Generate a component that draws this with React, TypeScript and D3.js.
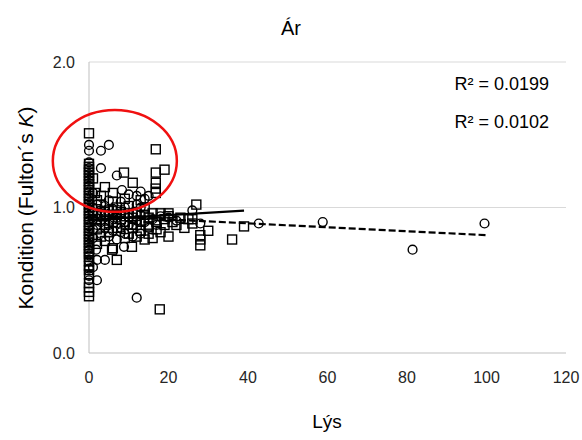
import React from "react";
import * as d3 from "d3";

const xTicks = [0, 20, 40, 60, 80, 100, 120];
const yTicks = [0, 1, 2];

// Series 1 (squares)
const squarePoints: [number, number][] = [
  [0, 1.51], [0, 1.3], [0, 1.28], [0, 1.26], [0, 1.24], [0, 1.22], [0, 1.2], [0, 1.18], [0, 1.16], [0, 1.14],
  [0, 1.12], [0, 1.1], [0, 1.08], [0, 1.06], [0, 1.04], [0, 1.02], [0, 1.0], [0, 0.98], [0, 0.96], [0, 0.94],
  [0, 0.92], [0, 0.9], [0, 0.88], [0, 0.86], [0, 0.84], [0, 0.82], [0, 0.8], [0, 0.78], [0, 0.76], [0, 0.74],
  [0, 0.72], [0, 0.7], [0, 0.68], [0, 0.66], [0, 0.63], [0, 0.6], [0, 0.57], [0, 0.54], [0, 0.48], [0, 0.45],
  [0, 0.42], [0, 0.39],
  [1, 1.2], [1.5, 1.1], [2, 1.05], [3, 1.02], [4, 1.14], [5, 0.98], [6, 1.1], [7, 0.95], [8, 0.92], [8.8, 1.24],
  [9, 0.9], [10, 0.96], [11, 1.17], [11, 0.93], [12, 0.88], [13, 0.91], [14, 0.95], [15, 0.87], [16.8, 1.4],
  [16.8, 1.24], [19, 1.26], [16.8, 1.17], [16.8, 1.13], [16.8, 1.1], [18, 0.96], [19, 0.92], [20, 0.94],
  [21, 0.9], [22, 0.88], [23, 0.93], [26, 0.89], [27, 1.02], [28, 0.81], [28, 0.78], [28, 0.74], [30, 0.84],
  [36, 0.78], [39, 0.87], [5.8, 0.71], [7, 0.64], [10.8, 0.73], [17.8, 0.3], [2, 0.85], [3, 0.8], [4, 0.88],
  [5, 0.83], [6, 0.9], [7, 0.86], [9, 0.79], [10, 0.82], [11, 0.86], [12, 0.8], [13, 0.84], [14, 0.78],
  [15, 0.82], [16, 0.79], [17, 0.85], [18, 0.83], [20, 0.8], [24, 0.86], [25, 0.92], [1, 0.96], [2, 0.92],
  [3, 0.94], [4, 0.97], [5, 0.91], [6, 0.95], [7, 1.0], [8, 0.97], [9, 0.94], [10, 1.01], [12, 0.97],
  [13, 1.05], [14, 1.0], [15, 0.93], [16, 0.96], [17, 0.9], [19, 0.88], [3, 1.08], [6, 1.04], [9, 1.06],
  [2, 0.75], [4, 0.77], [6, 0.72], [26, 0.92], [20, 0.96],
];

// Series 2 (circles)
const circlePoints: [number, number][] = [
  [0, 1.43], [0, 1.39], [0, 1.31], [0, 1.27], [0, 1.23], [0, 1.19], [0, 1.15], [0, 1.11], [0, 1.07], [0, 1.03],
  [0, 0.99], [0, 0.95], [0, 0.91], [0, 0.87], [0, 0.83], [0, 0.79], [0, 0.75], [0, 0.71], [0, 0.67], [0, 0.63],
  [0, 0.58], [0, 0.53], [0, 0.5],
  [3, 1.39], [5, 1.43], [3, 1.27], [7, 1.22], [8.3, 1.12], [13, 1.11], [12, 1.08], [14, 1.06], [1.8, 0.71],
  [2, 0.64], [4, 0.64], [2, 0.5], [8.8, 0.73], [8, 0.83], [12, 0.38], [26, 0.98], [28, 0.89], [42.7, 0.89],
  [58.8, 0.9], [81.4, 0.71], [99.5, 0.89], [1, 1.1], [2, 1.02], [3, 0.98], [4, 0.95], [5, 1.05], [6, 0.92],
  [7, 0.89], [8, 0.96], [9, 1.0], [10, 0.93], [11, 0.88], [12, 0.91], [13, 0.95], [14, 0.9], [15, 0.86],
  [16, 0.92], [17, 0.88], [18, 0.94], [20, 0.93], [1, 0.85], [2, 0.88], [3, 0.82], [4, 0.86], [5, 0.8],
  [6, 0.84], [7, 0.78], [8, 0.86], [9, 0.82], [10, 0.88], [11, 0.8], [13, 0.82], [1, 0.92], [3, 0.9],
  [5, 0.88], [7, 0.93], [9, 0.9], [11, 0.96], [13, 1.0], [15, 1.08], [1, 1.0], [2, 0.96], [4, 1.01],
  [6, 0.99], [8, 1.04], [10, 1.09], [12, 1.02], [1, 0.59], [1, 0.79], [22, 0.91],
];

// Trend lines
const squareTrend: [number, number][] = [[0, 0.915], [39, 0.978]];
const circleTrend: [number, number][] = [[0, 0.945], [100, 0.81]];

const r2Labels = ["R² = 0.0199", "R² = 0.0102"];

// Highlight ellipse (center x, center y, radius x, radius y in data units)
const highlight = [6.5, 1.32, 15.6, 0.35];

export default function App() {
  const W = 582;
  const H = 440;
  const left = 89, right = 566, top = 62, bottom = 353;
  const x = d3.scaleLinear().domain([0, 120]).range([left, right]);
  const y = d3.scaleLinear().domain([0, 2]).range([bottom, top]);
  const line = d3.line<[number, number]>().x((d) => x(d[0])).y((d) => y(d[1]));
  const sq = 9;
  const font = "Liberation Sans, Arial, sans-serif";

  return (
    <svg width={W} height={H} style={{ position: "absolute", left: 0, top: 0, background: "#fff" }} fontFamily={font}>
      <rect width={W} height={H} fill="#fff" />
      {yTicks.filter((t) => t > 0).map((t) => (
        <line key={t} x1={left} x2={right} y1={y(t)} y2={y(t)} stroke="#d9d9d9" strokeWidth={1} />
      ))}
      <line x1={left} x2={left} y1={top} y2={bottom} stroke="#bfbfbf" strokeWidth={1} />
      <line x1={left} x2={right} y1={bottom} y2={bottom} stroke="#bfbfbf" strokeWidth={1} />
      {yTicks.map((t) => (
        <text key={t} x={75} y={y(t)} dy="0.35em" textAnchor="end" fontSize={16} fill="#262626">
          {t.toFixed(1)}
        </text>
      ))}
      {xTicks.map((t) => (
        <text key={t} x={x(t)} y={383} textAnchor="middle" fontSize={16} fill="#262626">
          {t}
        </text>
      ))}
      {squarePoints.map((d, i) => (
        <rect key={"s" + i} x={x(d[0]) - sq / 2} y={y(d[1]) - sq / 2} width={sq} height={sq} fill="none" stroke="#000" strokeWidth={1.4} />
      ))}
      {circlePoints.map((d, i) => (
        <circle key={"c" + i} cx={x(d[0])} cy={y(d[1])} r={4.4} fill="none" stroke="#000" strokeWidth={1.4} />
      ))}
      <path d={line(squareTrend) || ""} stroke="#000" strokeWidth={2.2} fill="none" />
      <path d={line(circleTrend) || ""} stroke="#000" strokeWidth={2.2} fill="none" strokeDasharray="7,3" />
      <ellipse
        cx={x(highlight[0])}
        cy={y(highlight[1])}
        rx={x(highlight[2]) - x(0)}
        ry={y(0) - y(highlight[3])}
        fill="none"
        stroke="#f01010"
        strokeWidth={2.5}
      />
      {r2Labels.map((t, i) => (
        <text key={t} x={549} y={90 + i * 38} textAnchor="end" fontSize={18} fill="#000">
          {t}
        </text>
      ))}
      <text x={291} y={35} textAnchor="middle" fontSize={20} fill="#000">Ár</text>
      <text x={327} y={428} textAnchor="middle" fontSize={19} fill="#000">Lýs</text>
      <text transform={`translate(33,208) rotate(-90)`} textAnchor="middle" fontSize={21} fill="#000">
        Kondition (Fulton´s <tspan fontStyle="italic">K</tspan>)
      </text>
    </svg>
  );
}
